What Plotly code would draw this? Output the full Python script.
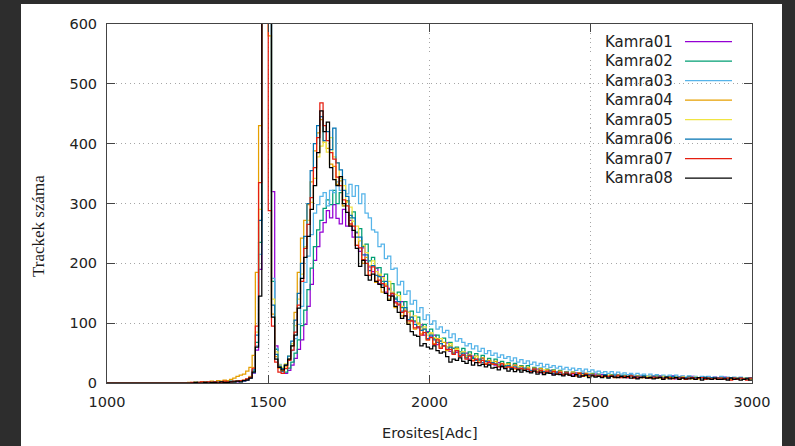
import plotly.graph_objects as go

# ---------------- data ----------------
bin_start = 1000
bin_width = 10
names = ["Kamra01", "Kamra02", "Kamra03", "Kamra04", "Kamra05", "Kamra06", "Kamra07", "Kamra08"]
colors = ["#9400d3", "#009e73", "#56b4e9", "#e69f00", "#f0e442", "#0072b2", "#e51e10", "#000000"]

kamra01 = [
    0,0,0,0,0,0,0,0,0,0,
    0,0,0,0,0,0,0,0,0,0,
    0,0,0,0,0,0,0,0,0,1,
    0,1,1,0,2,1,1,2,1,2,
    2,3,3,5,8,16,55,190,880,1550,
    1050,320,62,30,19,16,21,30,41,56,
    72,98,128,165,205,228,252,268,288,276,
    298,275,266,290,262,272,244,251,220,226,
    205,194,186,192,166,178,152,158,147,136,
    130,136,112,118,104,102,92,97,80,86,
    77,80,64,70,62,67,53,58,51,49,
    46,50,40,45,39,36,41,33,36,31,
    30,34,26,29,27,24,30,23,25,21,
    24,19,21,23,17,20,18,21,15,18,
    17,14,19,15,13,17,14,16,12,15,
    13,15,11,14,12,10,13,11,14,10,
    12,9,13,11,8,12,10,11,9,12,
    10,12,8,10,9,12,7,10,11,8,
    9,11,7,9,10,8,10,7,10,9,
    8,10,7,8,9,7,9,6,8,9,
]
kamra02 = [
    0,0,0,0,0,0,0,0,0,0,
    0,0,0,0,0,0,0,0,0,0,
    0,0,0,0,0,0,0,1,0,0,
    1,0,1,1,2,1,2,1,2,3,
    3,3,4,6,9,20,68,235,1020,1620,
    880,170,56,29,20,18,25,35,50,72,
    96,122,156,192,228,256,272,292,306,298,
    322,300,318,296,305,276,286,252,258,228,
    232,204,210,192,193,170,182,156,166,142,
    152,126,136,118,120,104,110,94,98,84,
    90,74,80,70,75,60,68,58,60,52,
    58,45,52,43,49,38,46,37,41,34,
    40,31,36,29,34,26,33,24,29,23,
    29,20,26,19,25,17,23,17,22,15,
    21,15,19,14,18,14,17,13,16,12,
    16,12,15,11,14,11,14,10,13,10,
    13,10,13,9,12,10,12,9,11,9,
    12,9,11,8,11,9,10,8,10,8,
    11,8,10,8,10,7,10,7,9,8,
    10,7,9,7,9,7,9,6,8,8,
]
kamra03 = [
    0,0,0,0,0,0,0,0,0,0,
    0,0,0,0,0,0,0,0,0,0,
    0,0,0,0,0,0,0,0,0,0,
    0,1,0,1,1,2,1,1,2,2,
    3,2,4,5,8,17,62,215,990,1680,
    920,175,58,31,25,29,38,54,74,98,
    128,168,212,248,284,298,312,318,296,322,
    318,336,322,340,316,332,312,330,300,316,
    284,276,256,252,228,232,208,212,190,192,
    164,170,148,154,132,138,118,126,106,114,
    98,104,90,94,84,88,76,82,70,74,
    68,62,66,57,62,53,58,49,54,46,
    50,43,47,41,44,37,42,35,39,33,
    37,31,35,29,33,27,31,26,29,25,
    28,23,26,22,25,21,24,20,23,19,
    22,18,20,17,19,16,19,15,18,15,
    17,14,16,13,16,13,15,12,15,12,
    14,11,13,11,13,10,13,10,12,10,
    12,10,11,9,11,9,11,9,10,9,
    11,9,10,8,10,8,10,8,9,9,
]
kamra04 = [
    0,0,0,0,0,0,0,0,0,0,
    0,0,0,0,0,0,0,0,0,0,
    0,0,0,0,0,1,0,1,1,2,
    2,1,3,2,4,3,5,4,6,8,
    11,13,15,20,26,46,185,430,1280,1500,
    580,115,44,25,21,27,40,62,118,185,
    242,272,298,336,388,418,440,402,392,366,
    362,332,338,296,304,264,270,230,238,200,
    210,180,196,168,180,152,164,140,150,126,
    136,112,122,100,110,90,100,82,90,72,
    82,66,74,60,68,54,62,50,58,45,
    52,42,48,38,45,35,42,33,38,31,
    36,29,33,27,32,25,30,23,28,22,
    26,20,25,19,24,18,22,17,21,16,
    20,15,19,14,18,14,17,13,16,12,
    15,12,14,11,14,11,13,10,13,10,
    12,10,12,9,12,9,11,9,11,8,
    11,8,10,8,10,8,10,7,10,7,
    10,7,9,7,9,7,9,7,8,7,
    9,7,8,6,8,7,8,6,8,6,
]
kamra05 = [
    0,0,0,0,0,0,0,0,0,0,
    0,0,0,0,0,0,0,0,0,0,
    0,0,0,0,0,0,0,1,0,0,
    0,1,1,2,1,1,2,2,3,2,
    4,3,5,7,11,26,85,290,1050,1650,
    700,140,52,30,26,32,45,66,96,140,
    182,228,272,302,342,378,396,402,386,410,
    378,368,342,330,302,294,270,262,238,230,
    218,196,204,186,182,176,166,170,152,148,
    146,128,124,118,106,112,98,90,94,80,
    84,76,70,74,62,60,66,52,56,50,
    52,44,46,40,44,36,38,36,31,35,
    33,30,27,31,26,28,23,27,22,24,
    25,20,22,21,18,22,17,19,18,15,
    19,15,16,14,17,12,15,14,11,15,
    14,11,13,12,10,13,11,9,12,11,
    11,10,12,8,11,10,9,11,8,10,
    10,8,11,9,8,10,9,7,10,9,
    9,8,10,7,9,8,7,9,8,8,
    8,9,7,8,6,9,7,8,7,6,
]
kamra06 = [
    0,0,0,0,0,0,0,0,0,0,
    0,0,0,0,0,0,0,0,0,0,
    0,0,0,0,0,0,0,0,1,0,
    1,1,0,2,1,2,1,2,3,2,
    3,4,4,6,9,22,80,272,1100,1700,
    750,130,48,28,24,30,45,70,105,150,
    200,245,300,355,400,430,445,405,420,390,
    426,368,356,322,312,280,276,244,244,214,
    214,188,196,180,178,164,170,146,150,140,
    136,120,126,106,110,98,94,88,90,74,
    80,72,68,66,62,56,60,50,54,46,
    50,42,46,41,38,40,34,36,31,34,
    32,28,30,27,29,24,27,25,22,25,
    22,21,23,18,21,19,17,20,16,18,
    17,15,18,13,16,15,12,16,13,14,
    14,12,13,11,14,10,12,13,10,12,
    11,10,12,9,11,10,12,9,10,11,
    10,11,8,10,9,11,8,10,9,9,
    10,8,9,9,7,10,8,9,8,9,
    8,9,7,9,8,8,9,7,8,9,
]
kamra07 = [
    0,0,0,0,0,0,0,0,0,0,
    0,0,0,0,0,0,0,0,0,0,
    0,0,0,0,0,0,1,0,1,2,
    1,2,1,2,1,1,3,2,2,3,
    3,4,5,7,10,25,95,335,1200,1500,
    288,95,35,18,16,24,38,55,85,130,
    170,225,265,310,360,410,468,430,405,385,
    374,344,330,306,296,266,262,230,226,206,
    200,180,194,170,172,166,162,146,150,134,
    132,118,120,104,104,92,94,80,84,72,
    76,64,72,58,62,56,56,48,54,44,
    47,40,45,37,40,34,38,31,34,32,
    31,27,32,25,27,26,25,23,24,21,
    23,19,23,18,21,17,20,16,19,15,
    18,14,17,13,16,12,16,11,15,12,
    13,12,12,11,11,11,12,9,12,9,
    11,9,12,8,10,10,9,9,8,10,
    9,10,7,9,9,7,9,8,9,6,
    8,9,6,8,9,6,8,7,7,8,
    8,6,8,5,8,6,8,7,5,8,
]
kamra08 = [
    0,0,0,0,0,0,0,0,0,0,
    0,0,0,0,0,0,0,0,0,0,
    0,0,0,0,0,0,0,1,0,0,
    1,0,1,1,0,2,1,1,2,2,
    3,2,4,5,8,18,60,145,950,1600,
    620,110,40,26,22,30,40,62,80,125,
    175,210,245,290,330,385,455,420,436,360,
    340,330,345,300,285,262,255,225,195,205,
    180,172,182,170,165,160,150,138,145,128,
    118,108,112,98,86,80,78,62,66,60,
    57,62,54,50,52,44,35,40,38,42,
    36,33,38,30,34,29,31,27,30,25,
    26,22,28,24,20,23,19,22,18,21,
    19,17,20,15,18,14,17,16,13,15,
    14,12,15,13,11,14,10,12,13,9,
    12,10,11,9,12,8,11,10,9,11,
    9,11,8,10,7,9,10,8,9,7,
    8,9,6,10,7,8,9,6,8,7,
    7,8,6,9,5,8,7,6,8,6,
    6,7,5,8,6,7,5,6,7,5,
]
series = [kamra01, kamra02, kamra03, kamra04, kamra05, kamra06, kamra07, kamra08]

x_ticks = [1000, 1500, 2000, 2500, 3000]
y_ticks = [0, 100, 200, 300, 400, 500, 600]
x_title = "Erosites[Adc]"
y_title = "Trackek száma"

# ---------------- figure ----------------
W, H = 795, 446
L, R, T, B = 107, 752, 24, 383
pw, ph = R - L, B - T

def px(xp):
    return (xp - L) / pw

def py(yp):
    return (B - yp) / ph

fig = go.Figure()
for name, color, vals in zip(names, colors, series):
    edges = [bin_start + bin_width * i for i in range(len(vals) + 1)]
    fig.add_trace(go.Scatter(
        x=edges, y=vals + [vals[-1]], mode="lines", name=name,
        line=dict(color=color, width=1.25, shape="hv"),
        showlegend=False, hoverinfo="skip",
    ))

tick_font = dict(family="DejaVu Sans", size=14.5, color="#222222")
axis_common = dict(
    showline=True, linecolor="#444444", linewidth=1, mirror="allticks",
    ticks="inside", ticklen=8, tickwidth=1, tickcolor="#444444",
    showgrid=True, gridcolor="#a6a6a6", griddash="1px,3.5px", gridwidth=1,
    zeroline=False, tickfont=tick_font,
)
fig.update_xaxes(range=[x_ticks[0], x_ticks[-1]], tickvals=x_ticks,
                 ticklabelstandoff=6, **axis_common)
fig.update_yaxes(range=[y_ticks[0], y_ticks[-1]], tickvals=y_ticks,
                 ticklabelstandoff=6, **axis_common)

shapes = [dict(type="rect", xref="paper", yref="paper", layer="below",
               x0=px(21), x1=px(782), y0=py(446), y1=py(4),
               fillcolor="white", line=dict(width=0))]
annotations = [
    dict(text=x_title, xref="paper", yref="paper", x=px(430), y=py(433),
         xanchor="center", yanchor="middle", showarrow=False,
         font=dict(family="DejaVu Sans", size=14.5, color="#222222")),
    dict(text=y_title, xref="paper", yref="paper", x=px(39), y=py(226),
         xanchor="center", yanchor="middle", showarrow=False, textangle=-90,
         font=dict(family="Liberation Serif", size=17, color="#1a1a1a")),
]
# gnuplot-style key: label right-aligned, sample line to its right
row0, row_step = 41.7, 19.5
for i, (name, color) in enumerate(zip(names, colors)):
    yc = row0 + i * row_step
    annotations.append(dict(text=name, xref="paper", yref="paper",
                            x=px(675), y=py(yc), xanchor="right", yanchor="middle",
                            showarrow=False,
                            font=dict(family="DejaVu Sans", size=15, color="#222222")))
    shapes.append(dict(type="line", xref="paper", yref="paper",
                       x0=px(685), x1=px(732), y0=py(yc), y1=py(yc),
                       line=dict(color=color, width=1.3)))

fig.update_layout(
    width=W, height=H,
    margin=dict(l=L, r=W - R, t=T, b=H - B),
    paper_bgcolor="#2d2d2d", plot_bgcolor="white",
    shapes=shapes, annotations=annotations,
    showlegend=False,
)
fig.write_html("out.html")
